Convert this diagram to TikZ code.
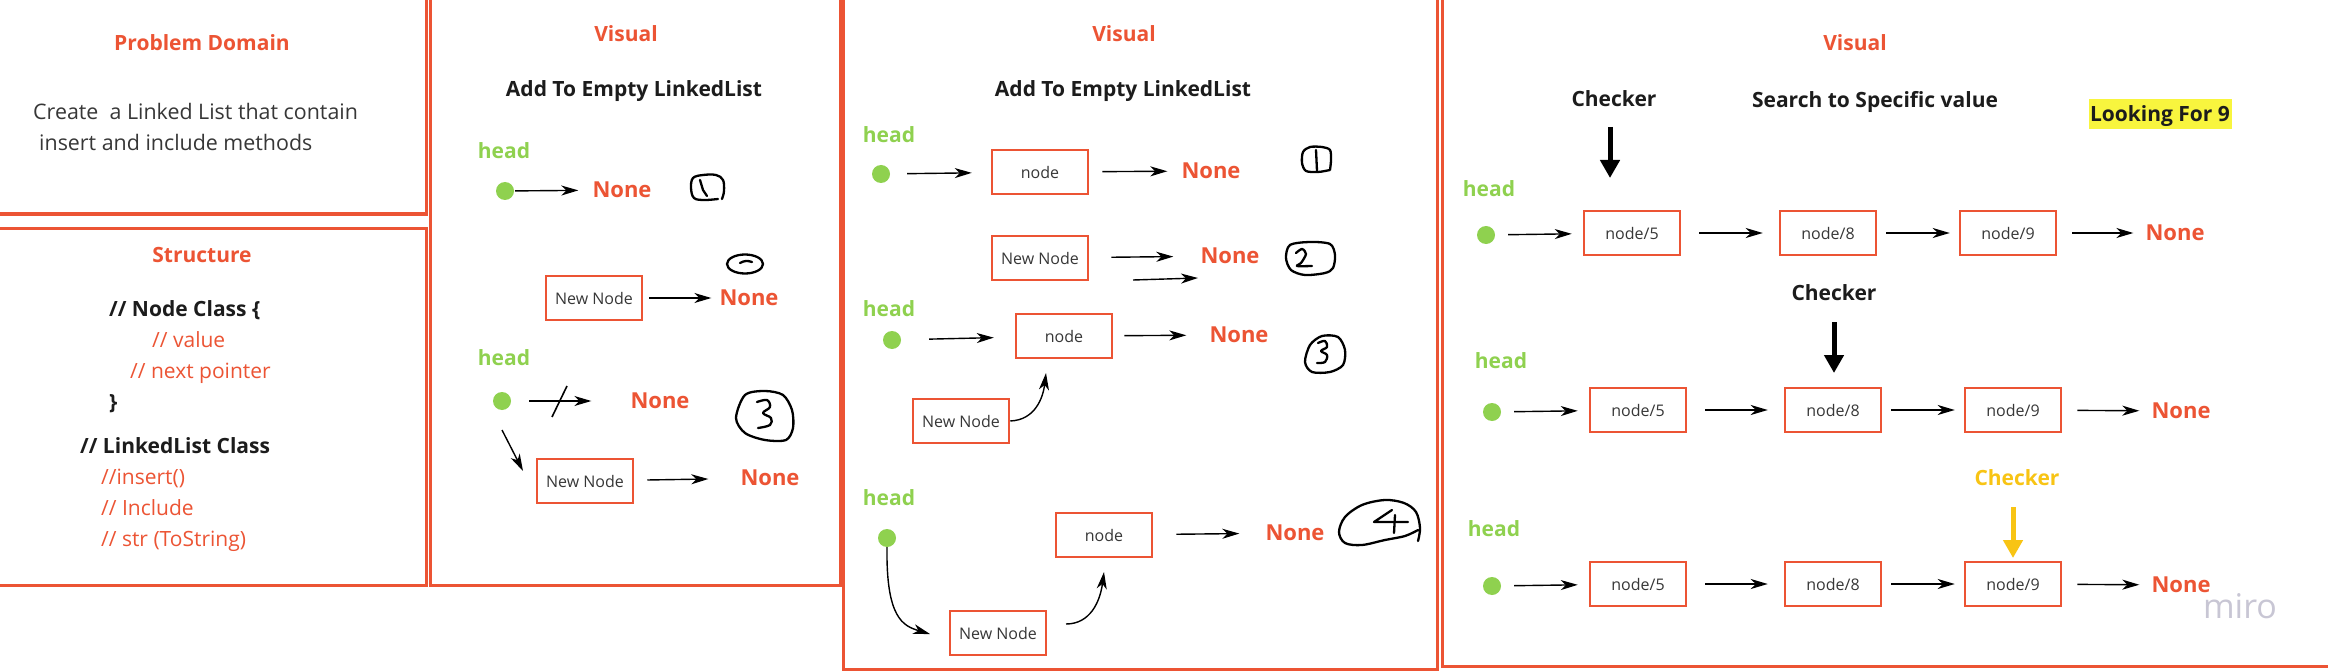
\documentclass[tikz,border=0pt]{standalone}
\usepackage{fontspec}
\setmainfont{Open Sans}
\usetikzlibrary{arrows.meta}
\definecolor{ored}{RGB}{236,84,52}
\definecolor{hgreen}{RGB}{143,209,79}
\definecolor{cyel}{RGB}{248,196,20}
\definecolor{hlyel}{RGB}{248,245,62}
\definecolor{txt}{RGB}{28,28,28}
\definecolor{bodytxt}{RGB}{55,55,55}
\definecolor{mirogray}{RGB}{200,198,212}
\tikzset{
  panel/.style={draw=ored, line width=3pt},
  ttl/.style={font={\fontsize{21}{25}\selectfont\bfseries}, text=ored, inner sep=0pt, text depth=0pt},
  sub/.style={font={\fontsize{21}{25}\selectfont\bfseries}, text=txt, inner sep=0pt, text depth=0pt},
  hd/.style={font={\fontsize{21}{25}\selectfont\bfseries}, text=hgreen, inner sep=0pt, text depth=0pt},
  non/.style={font={\fontsize{22}{26}\selectfont\bfseries}, text=ored, inner sep=0pt, text depth=0pt},
  hdot/.style={circle, fill=hgreen, minimum size=18pt, inner sep=0pt},
  lbox/.style={draw=ored, line width=2.5pt, minimum width=96pt, minimum height=44pt, inner sep=0pt, text depth=0pt, font={\fontsize{16}{19}\selectfont}, text=bodytxt},
  body/.style={font={\fontsize{21.4}{25}\selectfont}, text=bodytxt, anchor=base west, inner sep=0pt},
  cb/.style={font={\fontsize{21}{25}\selectfont\bfseries}, text=txt, anchor=base west, inner sep=0pt},
  cr/.style={font={\fontsize{21}{25}\selectfont}, text=ored, anchor=base west, inner sep=0pt},
  arr/.style={-{Stealth[length=17pt,width=10pt,inset=5pt]}, line width=1.4pt},
  bigarr/.style={-{Triangle[length=18pt,width=19pt]}, line width=5pt},
  hand/.style={line width=2.3pt, line cap=round, line join=round},
}
\begin{document}
\begin{tikzpicture}[x=1pt,y=-1pt]
\useasboundingbox (0,0) rectangle (2328,671);
\clip (0,0) rectangle (2328,671);
\fill[white] (0,0) rectangle (2328,671);

% ---------- Panel 1 ----------
\draw[panel] (-10,-10) rectangle (426,214);
\draw[panel] (-10,228) rectangle (426,585);
\node[ttl] (pd) at (202,43) {Problem Domain};
\node[body] (pdA) at (33,120) {Create\ \ a Linked List that contain};
\node[body] (pdB) at (39,151) {insert and include methods};
\node[ttl] (st) at (202,255) {Structure};
\node[cb] (c1) at (109,316) {// Node Class \{};
\node[cr] (c2) at (152,347) {// value};
\node[cr] (c3) at (130,378) {// next pointer};
\node[cb] (c4) at (109,409) {\}};
\node[cb] (c5) at (80,453) {// LinkedList Class};
\node[cr] (c6) at (101,484) {//insert()};
\node[cr] (c7) at (101,515) {// Include};
\node[cr] (c8) at (101,546) {// str (ToString)};

% ---------- Panel 2 ----------
\draw[panel] (430,-10) rectangle (840,585);
\node[ttl] (v2) at (626,34) {Visual};
\node[sub] (a2) at (634,89) {Add To Empty LinkedList};
% row 1
\node[hd] (h21) at (504,151) {head};
\node[hdot] (d21) at (505,191) {};
\node[non] (n21) at (622,190) {None};
\draw[arr, shorten <=1pt, shorten >=14pt] (d21) -- (n21);
\draw[hand] plot[smooth, tension=0.6] coordinates {(718,199) (704,200) (694,198) (691,188) (693,178) (703,175) (716,175) (723,180) (724,191) (722,199)};
\draw[hand] (700,180) -- (703,190) -- (707,196);
% row 2
\draw[hand] (745,264) ellipse [x radius=18, y radius=9.5];
\draw[hand] (740,263) to[bend left=25] (752,262);
\node[lbox] (nn21) at (594,298) {New Node};
\node[non] (n22) at (749,298) {None};
\draw[arr, shorten <=6pt, shorten >=8pt] (nn21) -- (n22);
% row 3
\node[hd] (h22) at (504,358) {head};
\node[hdot] (d22) at (502,401) {};
\node[non] (n23) at (660,401) {None};
\draw[arr, shorten <=18pt, shorten >=39pt] (d22) -- (n23);
\draw[line width=1.6pt] (552,417) -- (567,386);
\draw[hand] plot[smooth cycle, tension=0.5] coordinates {(745,395) (765,391) (783,395) (792,410) (793,428) (786,440) (765,440) (745,433) (736,418)};
\draw[hand] plot[smooth, tension=0.6] coordinates {(757,402) (767,400) (770,407) (763,413) (771,418) (770,425) (758,428)};
\coordinate (s23) at (502,430);
\coordinate (e23) at (523,471);
\draw[arr] (s23) -- (e23);
\node[lbox] (nn22) at (585,481) {New Node};
\node[non] (n24) at (770,478) {None};
\draw[arr, shorten <=13pt, shorten >=32pt] (nn22) -- (n24);

% ---------- Panel 3 ----------
\draw[panel] (843,-10) rectangle (1437,669);
\node[ttl] (v3) at (1124,34) {Visual};
\node[sub] (a3) at (1123,89) {Add To Empty LinkedList};
% row 1
\node[hd] (h31) at (889,135) {head};
\node[hdot] (d31) at (881,174) {};
\node[lbox] (b31) at (1040,172) {node};
\node[non] (n31) at (1211,171) {None};
\draw[arr, shorten <=17pt, shorten >=19pt] (d31) -- (b31);
\draw[arr, shorten <=13pt, shorten >=14pt] (b31) -- (n31);
\draw[hand] plot[smooth, tension=0.5] coordinates {(1330,170) (1318,172) (1306,171) (1302,163) (1303,152) (1310,147) (1322,147) (1330,150) (1331,160) (1330,170)};
\draw[hand] (1316,150) -- (1317,171);
% row 2
\node[lbox] (b32) at (1040,258) {New Node};
\node[non] (n32) at (1230,256) {None};
\draw[arr, shorten <=22pt, shorten >=27pt] (b32) -- (n32);
\coordinate (s32) at (1133,280);
\coordinate (e32) at (1198,278);
\draw[arr] (s32) -- (e32);
\draw[hand] plot[smooth cycle, tension=0.5] coordinates {(1290,245) (1310,242) (1330,244) (1335,255) (1333,268) (1325,273) (1305,275) (1291,270) (1286,258)};
\draw[hand] plot[smooth, tension=0.5] coordinates {(1296,253) (1302,249) (1306,254) (1301,263) (1297,266) (1312,266)};
% row 3
\node[hd] (h33) at (889,309) {head};
\node[hdot] (d33) at (892,340) {};
\node[lbox] (b33) at (1064,336) {node};
\node[non] (n33) at (1239,335) {None};
\draw[arr, shorten <=28pt, shorten >=21pt] (d33) -- (b33);
\draw[arr, shorten <=11pt, shorten >=23pt] (b33) -- (n33);
\draw[hand] plot[smooth cycle, tension=0.5] coordinates {(1310,345) (1322,336) (1338,337) (1345,350) (1343,365) (1330,372) (1312,372) (1305,362)};
\draw[hand] plot[smooth, tension=0.6] coordinates {(1318,343) (1325,341) (1327,347) (1321,351) (1327,355) (1325,362) (1317,363)};
\node[lbox] (b34) at (961,421) {New Node};
\coordinate (e34) at (1046,373);
\draw[arr] (b34.east) .. controls (1035,420) and (1043,398) .. (e34);
% row 4
\node[hd] (h35) at (889,498) {head};
\node[hdot] (d35) at (887,538) {};
\node[lbox] (b35) at (1104,535) {node};
\node[non] (n35) at (1295,533) {None};
\draw[arr, shorten <=23pt, shorten >=26pt] (b35) -- (n35);
\node[lbox] (b36) at (998,633) {New Node};
\coordinate (e35) at (930,634);
\draw[arr] (d35.south) .. controls (886,618) and (903,626) .. (e35);
\coordinate (s36) at (1066,624);
\coordinate (e36) at (1104,572);
\draw[arr] (s36) .. controls (1090,624) and (1100,602) .. (e36);
\draw[hand] plot[smooth, tension=0.55] coordinates {(1418,541) (1420,528) (1416,512) (1404,503) (1385,500) (1362,505) (1345,517) (1339,532) (1345,543) (1362,545) (1385,540) (1405,536) (1418,530)};
\draw[hand] (1392,510) -- (1374,522) -- (1408,522);
\draw[hand] (1395,515) -- (1394,533);

% ---------- Panel 4 ----------
\draw[panel] (1442,-10) rectangle (2340,666);
\node[ttl] (v4) at (1855,43) {Visual};
\node[sub] (k1) at (1614,99) {Checker};
\node[sub] (srch) at (1875,99) {Search to Specific value};
\node[fill=hlyel, minimum width=143pt, minimum height=30pt, inner sep=0pt, text depth=0pt, font={\fontsize{21}{25}\selectfont\bfseries}, text=txt] (look) at (2160,114) {Looking For 9};
\coordinate (k1s) at (1610,127);
\coordinate (k1e) at (1610,178);
\draw[bigarr] (k1s) -- (k1e);
% row 1
\node[hd] (h41) at (1489,189) {head};
\node[hdot] (d41) at (1486,235) {};
\node[lbox] (p41) at (1632,233) {node/5};
\node[lbox] (p42) at (1828,233) {node/8};
\node[lbox] (p43) at (2008,233) {node/9};
\node[non] (n41) at (2175,233) {None};
\draw[arr, shorten <=13pt, shorten >=11pt] (d41) -- (p41);
\draw[arr, shorten <=18pt, shorten >=16pt] (p41) -- (p42);
\draw[arr, shorten <=9pt, shorten >=9pt] (p42) -- (p43);
\draw[arr, shorten <=15pt, shorten >=12pt] (p43) -- (n41);
% row 2
\node[sub] (k2) at (1834,293) {Checker};
\coordinate (k2s) at (1834,322);
\coordinate (k2e) at (1834,373);
\draw[bigarr] (k2s) -- (k2e);
\node[hd] (h42) at (1501,361) {head};
\node[hdot] (d42) at (1492,412) {};
\node[lbox] (q41) at (1638,410) {node/5};
\node[lbox] (q42) at (1833,410) {node/8};
\node[lbox] (q43) at (2013,410) {node/9};
\node[non] (n42) at (2181,411) {None};
\draw[arr, shorten <=13pt, shorten >=11pt] (d42) -- (q41);
\draw[arr, shorten <=18pt, shorten >=16pt] (q41) -- (q42);
\draw[arr, shorten <=9pt, shorten >=9pt] (q42) -- (q43);
\draw[arr, shorten <=15pt, shorten >=12pt] (q43) -- (n42);
% row 3
\node[font={\fontsize{21}{25}\selectfont\bfseries}, text=cyel, inner sep=0pt, text depth=0pt] (k3) at (2017,478) {Checker};
\coordinate (k3s) at (2013,507);
\coordinate (k3e) at (2013,558);
\draw[bigarr, draw=cyel, fill=cyel] (k3s) -- (k3e);
\node[hd] (h43) at (1494,529) {head};
\node[hdot] (d43) at (1492,586) {};
\node[lbox] (r41) at (1638,584) {node/5};
\node[lbox] (r42) at (1833,584) {node/8};
\node[lbox] (r43) at (2013,584) {node/9};
\node[non] (n43) at (2181,585) {None};
\draw[arr, shorten <=13pt, shorten >=11pt] (d43) -- (r41);
\draw[arr, shorten <=18pt, shorten >=16pt] (r41) -- (r42);
\draw[arr, shorten <=9pt, shorten >=9pt] (r42) -- (r43);
\draw[arr, shorten <=15pt, shorten >=12pt] (r43) -- (n43);
\node[font={\fontsize{34}{38}\selectfont}, text=mirogray, inner sep=0pt, text depth=0pt] (miro) at (2240,606) {miro};
\end{tikzpicture}
\end{document}
